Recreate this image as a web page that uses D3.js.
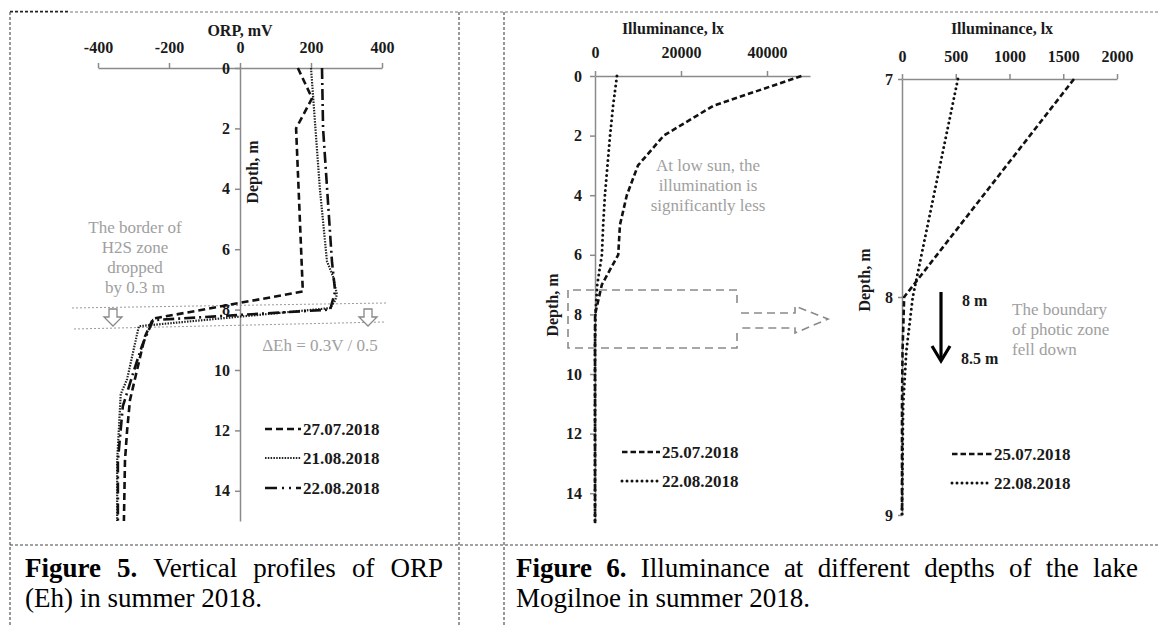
<!DOCTYPE html>
<html>
<head>
<meta charset="utf-8">
<script src="https://cdnjs.cloudflare.com/ajax/libs/d3/7.8.5/d3.min.js"></script>
<style>
body { margin: 0; background: #fff; }
svg { display: block; font-family: "Liberation Serif", "Times New Roman", serif; }
.axis path, .axis line { stroke: #8a8a8a; stroke-width: 1.5; }
.axis text { font-family: "Liberation Serif", serif; font-size: 16px; font-weight: bold; fill: #1a1a1a; }
.title { font-size: 16px; font-weight: bold; fill: #1a1a1a; }
.legend { font-size: 17px; font-weight: bold; fill: #1a1a1a; }
.note { fill: #a0a0a0; font-size: 17px; }
.caption { font-size: 27px; fill: #000; }
</style>
</head>
<body>
<svg width="1158" height="625"></svg>
<script>
var width = 1158;
var height = 625;

// Figure 5: ORP profiles
var orpTicks = [-400, -200, 0, 200, 400];
var orpDepthTicks = [0, 2, 4, 6, 8, 10, 12, 14];

var orpDepth27 = [0, 1, 2, 7.4, 8.3, 8.9, 10, 11, 12, 13, 15];
var orp27 = [163, 203, 158, 177, -245, -268, -290, -310, -318, -324, -327];

var orpDepth21 = [0, 4, 6.4, 6.9, 7.5, 7.7, 7.95, 8.55, 9.4, 10.3, 10.8, 13, 15];
var orp21 = [200, 225, 245, 262, 273, 268, 254, -285, -301, -318, -336, -346, -346];

var orpDepth22 = [0, 2, 6.4, 7.4, 8.0, 8.35, 9.2, 10.1, 11.2, 13, 15];
var orp22 = [231, 234, 259, 268, 254, -245, -276, -301, -330, -344, -344];

var orpDates = ["27.07.2018", "21.08.2018", "22.08.2018"];

// Figure 6: illuminance
var luxTicks = [0, 20000, 40000];
var luxDepthTicks = [0, 2, 4, 6, 8, 10, 12, 14];
var luxDepth = [0, 1, 2, 3, 4, 5, 6, 7, 8, 9, 10, 11, 12, 13, 14, 15];
var lux2507 = [48000, 27500, 16000, 10000, 7400, 5800, 5400, 1600, 20, 0, 0, 0, 0, 0, 0, 0];
var lux2208 = [5100, 4200, 3500, 2900, 2300, 1900, 1600, 520, 100, 0, 0, 0, 0, 0, 0, 0];

var zoomTicks = [0, 500, 1000, 1500, 2000];
var zoomDepthTicks = [7, 8, 9];
var zoomDepth = [7, 8, 8.25, 8.5, 9];
var zoom2507 = [1600, 20, 5, 0, 0];
var zoom2208 = [520, 100, 40, 10, 0];

var luxDates = ["25.07.2018", "22.08.2018"];

var svg = d3.select("svg")
    .attr("width", width)
    .attr("height", height);

// table borders
var borders = svg.append("g").attr("fill", "none").attr("stroke-dasharray", "3,2");
borders.append("line").attr("x1", 10).attr("y1", 12).attr("x2", 1158).attr("y2", 12).attr("stroke", "#777");
borders.append("line").attr("x1", 10).attr("y1", 11.5).attr("x2", 70).attr("y2", 11.5).attr("stroke", "#222").attr("stroke-width", 1.5);
[10, 459, 504].forEach(function(x) {
  borders.append("line").attr("x1", x).attr("y1", 12).attr("x2", x).attr("y2", height).attr("stroke", "#333");
});
borders.append("line").attr("x1", 10).attr("y1", 545).attr("x2", 1158).attr("y2", 545).attr("stroke", "#444");

var styles = {
  dash: { w: 2.6, d: "7,4", c: "#111", cap: "butt" },
  dot: { w: 2.2, d: "1.5,1.3", c: "#222", cap: "butt" },
  dashdot: { w: 2.6, d: "11,4,2,4", c: "#111", cap: "butt" },
  ldash: { w: 2.6, d: "5.5,3", c: "#111", cap: "butt" },
  ldot: { w: 3, d: "0,5", c: "#111", cap: "round" }
};

function drawSeries(g, x, y, depths, values, st) {
  var pts = depths.map(function(d, i) { return [values[i], d]; });
  var line = d3.line()
      .x(function(p) { return x(p[0]); })
      .y(function(p) { return y(p[1]); });
  g.append("path")
      .datum(pts)
      .attr("d", line)
      .attr("fill", "none")
      .attr("stroke", st.c)
      .attr("stroke-width", st.w)
      .attr("stroke-dasharray", st.d)
      .attr("stroke-linecap", st.cap)
      .attr("stroke-linejoin", "round");
}

function legendItem(g, x1, x2, y, label, st) {
  g.append("line")
      .attr("x1", x1).attr("x2", x2).attr("y1", y).attr("y2", y)
      .attr("stroke", st.c)
      .attr("stroke-width", st.w)
      .attr("stroke-dasharray", st.d)
      .attr("stroke-linecap", st.cap);
  g.append("text")
      .attr("class", "legend")
      .attr("x", x2 + 2)
      .attr("y", y + 6)
      .text(label);
}

// plain hyphen for negatives, like the source
var fmt = function(d) { return String(d); };

function drawAxes(g, x, y, xt, yt, opt) {
  g.append("g")
      .attr("class", "axis")
      .attr("transform", "translate(0," + y.range()[0] + ")")
      .call(d3.axisTop(x).tickValues(xt).tickSize(5).tickSizeOuter(0).tickPadding(opt.xpad).tickFormat(fmt));
  g.append("g")
      .attr("class", "axis")
      .attr("transform", "translate(" + x(0) + ",0)")
      .call(d3.axisLeft(y).tickValues(yt).tickSize(opt.ytick).tickSizeOuter(0).tickPadding(opt.ypad).tickFormat(fmt));
  g.selectAll(".axis .domain").attr("stroke", "#8a8a8a").attr("stroke-width", 1.5);
  g.append("text")
      .attr("class", "title")
      .attr("x", opt.tx)
      .attr("y", opt.ty)
      .attr("text-anchor", "middle")
      .text(opt.title);
  g.append("text")
      .attr("class", "title")
      .attr("transform", "translate(" + opt.dx + "," + opt.dy + ") rotate(-90)")
      .attr("text-anchor", "middle")
      .text("Depth, m");
}

function noteLines(g, lines, x, y0, step, anchor) {
  var t = g.append("text").attr("class", "note").attr("text-anchor", anchor);
  lines.forEach(function(s, i) {
    t.append("tspan").attr("x", x).attr("y", y0 + i * step).text(s);
  });
}

// ---------- Figure 5 ----------
var g5 = svg.append("g");
var xOrp = d3.scaleLinear().domain([-400, 400]).range([98, 382]);
var yOrp = d3.scaleLinear().domain([0, 15]).range([68, 521]);

// H2S border band
var band = g5.append("g").attr("stroke", "#9a9a9a").attr("stroke-width", 1).attr("stroke-dasharray", "2,2");
band.append("line").attr("x1", 72).attr("y1", 308).attr("x2", 386).attr("y2", 303);
band.append("line").attr("x1", 74).attr("y1", 329).attr("x2", 384).attr("y2", 322);

drawAxes(g5, xOrp, yOrp, orpTicks, orpDepthTicks, {
  xpad: 10, ytick: 5, ypad: 5, tx: 240, ty: 36, title: "ORP, mV", dx: 258, dy: 172
});

drawSeries(g5, xOrp, yOrp, orpDepth27, orp27, styles.dash);
drawSeries(g5, xOrp, yOrp, orpDepth21, orp21, styles.dot);
drawSeries(g5, xOrp, yOrp, orpDepth22, orp22, styles.dashdot);

[113, 368].forEach(function(cx) {
  g5.append("path")
      .attr("d", "M" + (cx - 4) + ",309 H" + (cx + 4) + " V317 H" + (cx + 9) + " L" + cx + ",326 L" + (cx - 9) + ",317 H" + (cx - 4) + " Z")
      .attr("fill", "#fff")
      .attr("stroke", "#888")
      .attr("stroke-width", 1.3);
});

noteLines(g5, ["The border of", "H2S zone", "dropped", "by 0.3 m"], 135, 233, 20, "middle");
noteLines(g5, ["\u0394Eh = 0.3V / 0.5"], 320, 351, 20, "middle");

var leg5 = g5.append("g");
legendItem(leg5, 265, 301, 429, orpDates[0], styles.dash);
legendItem(leg5, 265, 301, 458, orpDates[1], styles.dot);
legendItem(leg5, 265, 301, 488, orpDates[2], { w: 2.6, d: "12,5,2,5,2,5", c: "#111", cap: "butt" });

// ---------- Figure 6, full depth ----------
var g6 = svg.append("g");
var xLux = d3.scaleLinear().domain([0, 50000]).range([595, 810]);
var yLux = d3.scaleLinear().domain([0, 15]).range([76, 523]);

drawAxes(g6, xLux, yLux, luxTicks, luxDepthTicks, {
  xpad: 13, ytick: 5, ypad: 8, tx: 673, ty: 34, title: "Illuminance, lx", dx: 558, dy: 305
});
drawSeries(g6, xLux, yLux, luxDepth, lux2507, styles.ldash);
drawSeries(g6, xLux, yLux, luxDepth, lux2208, styles.ldot);

noteLines(g6, ["At low sun, the", "illumination is", "significantly less"], 708, 171, 20, "middle");

// box marking the zoomed range and the arrow to the right chart
var box = g6.append("g").attr("fill", "none").attr("stroke", "#8a8a8a").attr("stroke-width", 1.6).attr("stroke-dasharray", "8,5");
box.append("path").attr("d", "M737,303 V290 H568 V348 H737 V330");
box.append("path").attr("d", "M741,313 H795 V306 L828,319 L795,333 V328 H741");

var leg6 = g6.append("g");
legendItem(leg6, 622, 660, 452, luxDates[0], styles.ldash);
legendItem(leg6, 622, 660, 481, luxDates[1], styles.ldot);

// ---------- Figure 6, 7-9 m ----------
var g7 = svg.append("g");
var xZoom = d3.scaleLinear().domain([0, 2000]).range([902, 1117]);
var yZoom = d3.scaleLinear().domain([7, 9]).range([79, 515]);

drawAxes(g7, xZoom, yZoom, zoomTicks, zoomDepthTicks, {
  xpad: 12, ytick: 4, ypad: 5, tx: 1002, ty: 34, title: "Illuminance, lx", dx: 870, dy: 280
});
drawSeries(g7, xZoom, yZoom, zoomDepth, zoom2507, styles.ldash);
drawSeries(g7, xZoom, yZoom, zoomDepth, zoom2208, styles.ldot);

g7.append("line")
    .attr("x1", 941).attr("y1", 292).attr("x2", 941).attr("y2", 360)
    .attr("stroke", "#000").attr("stroke-width", 3.2);
g7.append("path")
    .attr("d", "M932,346 L941,361 L950,346")
    .attr("fill", "none").attr("stroke", "#000").attr("stroke-width", 3.2);
g7.append("text").attr("class", "title").attr("x", 962).attr("y", 306).text("8 m");
g7.append("text").attr("class", "title").attr("x", 961).attr("y", 364).text("8.5 m");

noteLines(g7, ["The boundary", "of photic zone", "fell down"], 1012, 315, 20, "start");

var leg7 = g7.append("g");
legendItem(leg7, 952, 992, 454, luxDates[0], styles.ldash);
legendItem(leg7, 952, 992, 483, luxDates[1], styles.ldot);

// ---------- captions ----------
function justify(words, x0, x1, y) {
  var cap = svg.append("g");
  var nodes = words.map(function(w) {
    return cap.append("text")
        .attr("class", "caption")
        .attr("y", y)
        .attr("font-weight", w.b ? "bold" : "normal")
        .text(w.t);
  });
  var total = d3.sum(nodes, function(n) { return n.node().getComputedTextLength(); });
  var gap = (x1 - x0 - total) / (nodes.length - 1);
  var x = x0;
  nodes.forEach(function(n) {
    n.attr("x", x);
    x += n.node().getComputedTextLength() + gap;
  });
}

function words(boldPart, rest) {
  var out = boldPart.split(" ").map(function(t) { return { t: t, b: true }; });
  return out.concat(rest.split(" ").map(function(t) { return { t: t, b: false }; }));
}

justify(words("Figure 5.", "Vertical profiles of ORP"), 25, 443, 577);
justify(words("Figure 6.", "Illuminance at different depths of the lake"), 516, 1138, 577);
svg.append("text").attr("class", "caption").attr("x", 25).attr("y", 607).text("(Eh) in summer 2018.");
svg.append("text").attr("class", "caption").attr("x", 516).attr("y", 607).text("Mogilnoe in summer 2018.");
</script>
</body>
</html>
